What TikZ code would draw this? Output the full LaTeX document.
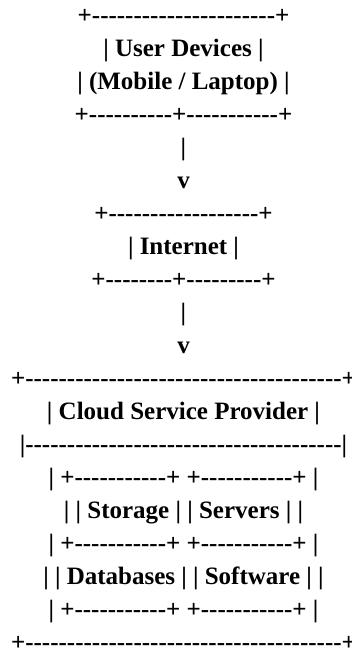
\documentclass[tikz,border=0pt]{standalone}
\usepackage{fontspec}
\newfontfamily\boxfont{Liberation Serif}
\newcommand{\dashes}[1]{\foreach\k in {1,...,#1}{-\kern0pt}}

\begin{document}
\begin{tikzpicture}[x=0.75pt,y=-0.75pt,
  asciiline/.style={anchor=base,inner sep=0pt,outer sep=0pt,font=\boxfont\bfseries\fontsize{18.75}{20}\selectfont}]
\useasboundingbox (0,0) rectangle (351,654);
\coordinate (r1) at (183.5,23);
\coordinate (r2) at (183.5,56);
\coordinate (r3) at (183.5,89);
\coordinate (r4) at (183.5,122);
\coordinate (r5) at (183.5,155);
\coordinate (r6) at (183.5,188);
\coordinate (r7) at (183.5,221);
\coordinate (r8) at (183.5,254);
\coordinate (r9) at (183.5,287);
\coordinate (r10) at (183.5,320);
\coordinate (r11) at (183.5,353);
\coordinate (r12) at (183.5,386);
\coordinate (r13) at (183.5,419);
\coordinate (r14) at (183.5,452);
\coordinate (r15) at (183.5,485);
\coordinate (r16) at (183.5,518);
\coordinate (r17) at (183.5,551);
\coordinate (r18) at (183.5,584);
\coordinate (r19) at (183.5,617);
\coordinate (r20) at (183.5,650);
\node[asciiline] (userTop) at (r1) {+\dashes{22}+};
\node[asciiline] (userName) at (r2) {| User Devices |};
\node[asciiline] (userSub) at (r3) {| (Mobile / Laptop) |};
\node[asciiline] (userBot) at (r4) {+\dashes{10}+\dashes{11}+};
\node[asciiline] (pipeA) at (r5) {|};
\node[asciiline] (headA) at (r6) {v};
\node[asciiline] (netTop) at (r7) {+\dashes{18}+};
\node[asciiline] (netName) at (r8) {| Internet |};
\node[asciiline] (netBot) at (r9) {+\dashes{8}+\dashes{9}+};
\node[asciiline] (pipeB) at (r10) {|};
\node[asciiline] (headB) at (r11) {v};
\node[asciiline] (cloudTop) at (r12) {+\dashes{38}+};
\node[asciiline] (cloudName) at (r13) {| Cloud Service Provider |};
\node[asciiline] (cloudRule) at (r14) {|\dashes{38}|};
\node[asciiline] (rowTop) at (r15) {| +\dashes{11}+ +\dashes{11}+ |};
\node[asciiline] (rowStorage) at (r16) {| | Storage | | Servers | |};
\node[asciiline] (rowMid) at (r17) {| +\dashes{11}+ +\dashes{11}+ |};
\node[asciiline] (rowData) at (r18) {| | Databases | | Software | |};
\node[asciiline] (rowBot) at (r19) {| +\dashes{11}+ +\dashes{11}+ |};
\node[asciiline] (cloudBot) at (r20) {+\dashes{38}+};
\end{tikzpicture}
\end{document}
